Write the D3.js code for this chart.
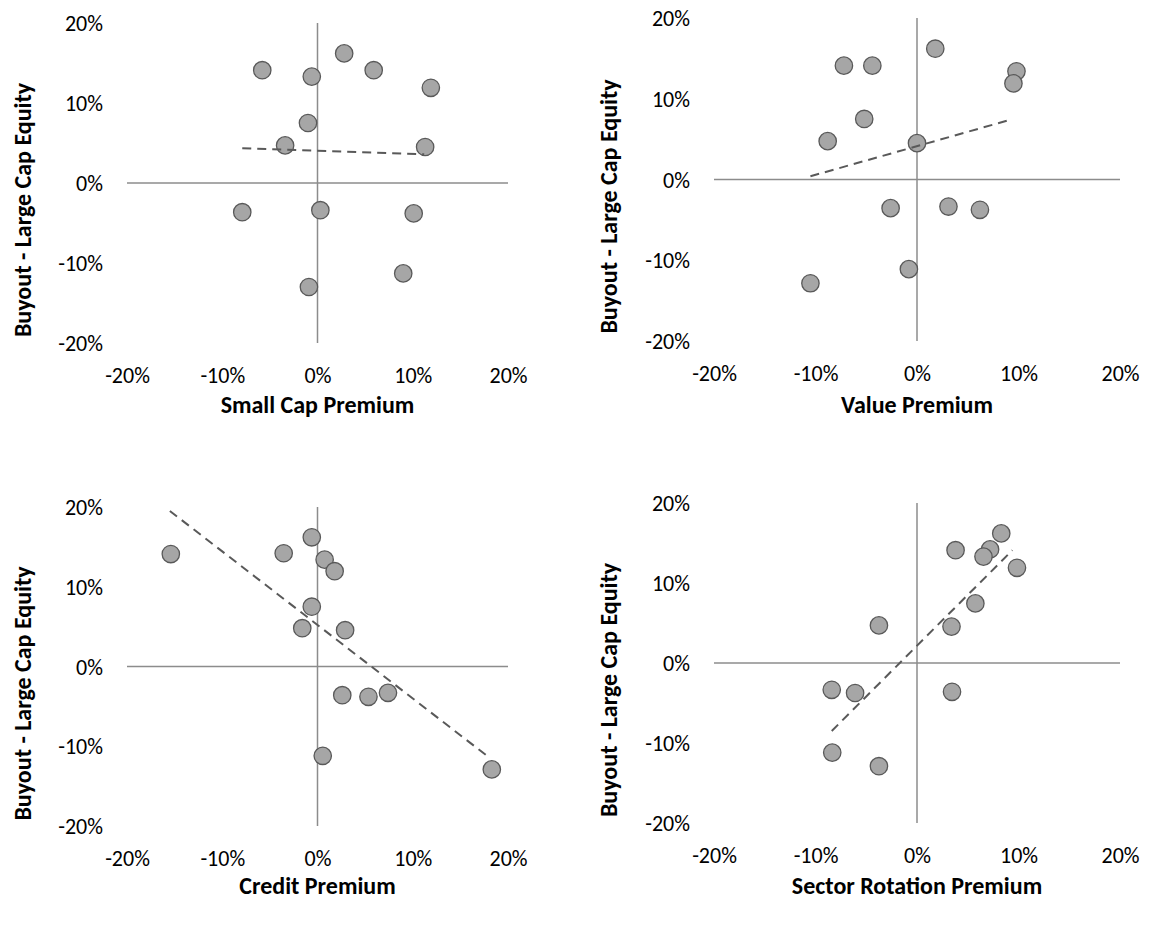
<!DOCTYPE html>
<html>
<head>
<meta charset="utf-8">
<script src="https://cdn.jsdelivr.net/npm/d3@7/dist/d3.min.js"></script>
<style>
  html, body { margin: 0; padding: 0; background: #ffffff; }
  svg { display: block; }
  text { font-family: Carlito, Lato, "Open Sans", sans-serif; fill: #000; }
</style>
</head>
<body>
<svg id="chart" width="1151" height="927"></svg>
<script>
// ---- Data (percent) ----
const axisTicks = [-20, -10, 0, 10, 20];
const yAxisTitle = "Buyout - Large Cap Equity";

const smallCapTitle = "Small Cap Premium";
const smallCapX = [-5.8, -0.6, 2.8, 5.9, 11.9, -1.0, -3.4, 11.3, -7.9, 0.3, 10.1, 9.0, -0.9];
const smallCapY = [14.1, 13.3, 16.2, 14.1, 11.9, 7.5, 4.7, 4.5, -3.65, -3.4, -3.8, -11.3, -13.0];
const smallCapTrendX = [-7.9, 11.2];
const smallCapTrendY = [4.35, 3.6];

const valueTitle = "Value Premium";
const valueX = [-7.2, -4.4, 1.8, 9.8, 9.5, -5.2, -8.8, 0.0, -2.6, 3.1, 6.2, -0.8, -10.5];
const valueY = [14.1, 14.1, 16.2, 13.4, 11.9, 7.5, 4.75, 4.5, -3.55, -3.35, -3.75, -11.1, -12.85];
const valueTrendX = [-10.5, 9.2];
const valueTrendY = [0.4, 7.4];

const creditTitle = "Credit Premium";
const creditX = [-15.4, -3.55, -0.6, 0.75, 1.8, -0.6, -1.6, 2.9, 2.6, 5.35, 7.4, 0.55, 18.3];
const creditY = [14.1, 14.2, 16.2, 13.4, 11.95, 7.5, 4.8, 4.55, -3.6, -3.8, -3.3, -11.2, -12.9];
const creditTrendX = [-15.5, 17.9];
const creditTrendY = [19.5, -11.3];

const sectorTitle = "Sector Rotation Premium";
const sectorX = [8.3, 3.8, 7.2, 6.55, 9.85, 5.75, -3.75, 3.4, -8.4, -6.1, 3.45, -8.35, -3.75];
const sectorY = [16.2, 14.1, 14.2, 13.3, 11.9, 7.45, 4.7, 4.55, -3.35, -3.75, -3.6, -11.2, -12.9];
const sectorTrendX = [-8.4, 9.4];
const sectorTrendY = [-8.5, 14.1];

// ---- Layout ----
const panels = [
  { title: smallCapTitle, xs: smallCapX, ys: smallCapY, tx: smallCapTrendX, ty: smallCapTrendY,
    x0: 127, x1: 508, yTop: 23, yBot: 343, titleY: 405, yTitleX: 23 },
  { title: valueTitle, xs: valueX, ys: valueY, tx: valueTrendX, ty: valueTrendY,
    x0: 714, x1: 1120, yTop: 18, yBot: 341, titleY: 405, yTitleX: 609 },
  { title: creditTitle, xs: creditX, ys: creditY, tx: creditTrendX, ty: creditTrendY,
    x0: 127, x1: 508, yTop: 507, yBot: 826, titleY: 886, yTitleX: 23 },
  { title: sectorTitle, xs: sectorX, ys: sectorY, tx: sectorTrendX, ty: sectorTrendY,
    x0: 714, x1: 1120, yTop: 503, yBot: 823, titleY: 886, yTitleX: 609 }
];

const svg = d3.select("#chart");
const fmt = d => d + "%";
const tickFont = "22px";
const titleFont = "24px";

panels.forEach(p => {
  const x = d3.scaleLinear().domain([-20, 20]).range([p.x0, p.x1]);
  const y = d3.scaleLinear().domain([-20, 20]).range([p.yBot, p.yTop]);
  const g = svg.append("g");

  // zero axis lines
  g.append("line")
    .attr("x1", x(-20)).attr("x2", x(20))
    .attr("y1", y(0)).attr("y2", y(0))
    .attr("stroke", "#8c8c8c").attr("stroke-width", 1.5);
  g.append("line")
    .attr("x1", x(0)).attr("x2", x(0))
    .attr("y1", y(20)).attr("y2", y(-20))
    .attr("stroke", "#8c8c8c").attr("stroke-width", 1.5);

  // tick labels (low position)
  const xAxis = d3.axisBottom(x).tickValues(axisTicks).tickFormat(fmt).tickSize(0).tickPadding(0);
  const gx = g.append("g").attr("transform", `translate(0,${y(-20) + 32})`).call(xAxis);
  gx.select(".domain").remove();
  gx.selectAll("text").attr("dy", "0.35em").attr("y", 0)
    .style("font-size", tickFont).style("font-family", "Carlito, Lato, sans-serif").attr("fill", "#000");

  const yAxis = d3.axisLeft(y).tickValues(axisTicks).tickFormat(fmt).tickSize(0).tickPadding(0);
  const gy = g.append("g").attr("transform", `translate(${x(-20) - 24},0)`).call(yAxis);
  gy.select(".domain").remove();
  gy.selectAll("text").attr("dy", "0.35em").attr("x", 0)
    .style("font-size", tickFont).style("font-family", "Carlito, Lato, sans-serif").attr("fill", "#000");

  // points
  const pts = p.xs.map((v, i) => [v, p.ys[i]]);
  g.append("g").selectAll("circle").data(pts).join("circle")
    .attr("cx", d => x(d[0])).attr("cy", d => y(d[1])).attr("r", 8.7)
    .attr("fill", "#a6a6a6").attr("stroke", "#595959").attr("stroke-width", 1.3);

  // trend line
  const tpts = p.tx.map((v, i) => [v, p.ty[i]]);
  g.append("path").datum(tpts)
    .attr("d", d3.line().x(d => x(d[0])).y(d => y(d[1])))
    .attr("fill", "none").attr("stroke", "#595959").attr("stroke-width", 2)
    .attr("stroke-dasharray", "9,6");

  // axis titles
  g.append("text")
    .attr("x", x(0)).attr("y", p.titleY).attr("dy", "0.35em")
    .attr("text-anchor", "middle")
    .style("font-size", titleFont).style("font-weight", "bold")
    .text(p.title);
  g.append("text")
    .attr("transform", `translate(${p.yTitleX},${y(0) + 27}) rotate(-90)`)
    .attr("dy", "0.35em").attr("text-anchor", "middle")
    .style("font-size", titleFont).style("font-weight", "bold")
    .text(yAxisTitle);
});
</script>
</body>
</html>
